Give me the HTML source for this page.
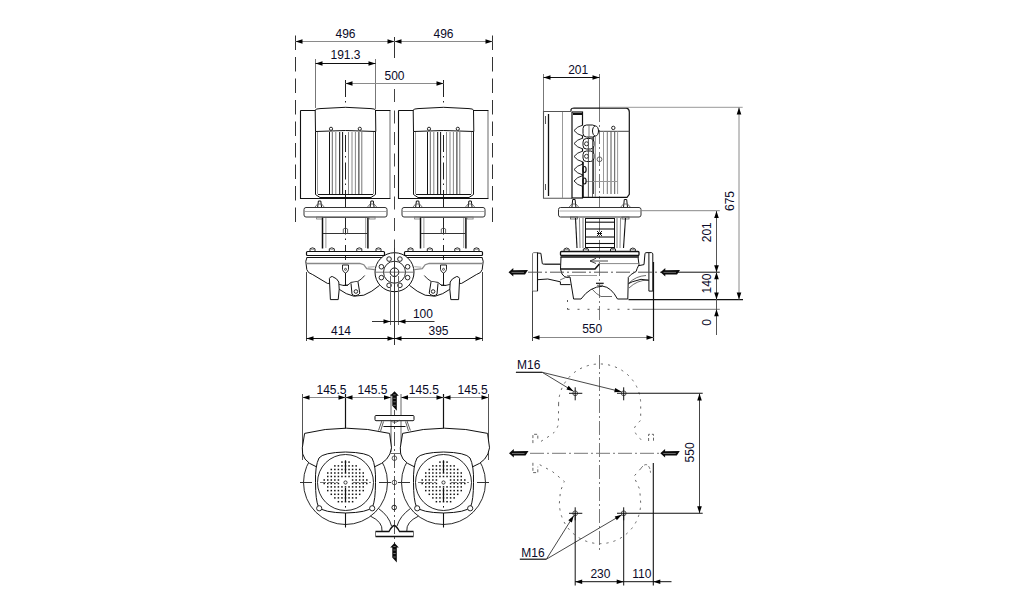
<!DOCTYPE html>
<html><head><meta charset="utf-8"><style>
html,body{margin:0;padding:0;background:#fff;}
body{width:1034px;height:611px;overflow:hidden;}
svg{display:block;font-family:"Liberation Sans",sans-serif;}
</style></head><body>
<svg width="1034" height="611" viewBox="0 0 1034 611">
<rect width="1034" height="611" fill="#fff"/>
<line x1="295.5" y1="35.5" x2="295.5" y2="222" stroke="#333" stroke-width="1" stroke-dasharray="14.5 7"/>
<line x1="492.5" y1="35.5" x2="492.5" y2="222" stroke="#333" stroke-width="1" stroke-dasharray="14.5 7"/>
<line x1="394.5" y1="37" x2="394.5" y2="58" stroke="#333" stroke-width="1"/>
<line x1="394.5" y1="89" x2="394.5" y2="250" stroke="#444" stroke-width="1" stroke-dasharray="13 8.5"/>
<line x1="295.5" y1="41.5" x2="394.5" y2="41.5" stroke="#8a8a8a" stroke-width="1"/>
<polygon points="295.5,41.5 302.5,39.2 302.5,43.8" fill="#000"/>
<polygon points="394.5,41.5 387.5,39.2 387.5,43.8" fill="#000"/>
<line x1="394.5" y1="41.5" x2="492.5" y2="41.5" stroke="#8a8a8a" stroke-width="1"/>
<polygon points="394.5,41.5 401.5,39.2 401.5,43.8" fill="#000"/>
<polygon points="492.5,41.5 485.5,39.2 485.5,43.8" fill="#000"/>
<text x="345.5" y="37.8" text-anchor="middle" font-size="12" fill="#0a0a28">496</text>
<text x="443.5" y="37.8" text-anchor="middle" font-size="12" fill="#0a0a28">496</text>
<line x1="315.5" y1="59" x2="315.5" y2="108" stroke="#777" stroke-width="1"/>
<line x1="375.5" y1="59" x2="375.5" y2="109" stroke="#777" stroke-width="1"/>
<line x1="315.5" y1="63.5" x2="375.5" y2="63.5" stroke="#111" stroke-width="1"/>
<polygon points="315.5,63.5 322.5,61.2 322.5,65.8" fill="#000"/>
<polygon points="375.5,63.5 368.5,61.2 368.5,65.8" fill="#000"/>
<text x="345.5" y="59" text-anchor="middle" font-size="12" fill="#0a0a28">191.3</text>
<line x1="345.5" y1="80" x2="345.5" y2="260" stroke="#222" stroke-width="1" stroke-dasharray="17 4 1.5 5"/>
<line x1="443.5" y1="80" x2="443.5" y2="260" stroke="#222" stroke-width="1" stroke-dasharray="17 4 1.5 5"/>
<line x1="345.5" y1="83.5" x2="443.5" y2="83.5" stroke="#8a8a8a" stroke-width="1"/>
<polygon points="345.5,83.5 352.5,81.2 352.5,85.8" fill="#000"/>
<polygon points="443.5,83.5 436.5,81.2 436.5,85.8" fill="#000"/>
<text x="394.5" y="79.6" text-anchor="middle" font-size="12" fill="#0a0a28">500</text>
<path d="M390.5,110.5 L301,110.5 Q300.5,110.5 300.5,111 L300.5,198.5 L390.5,198.5" stroke="#111" stroke-width="1.1" fill="none"/>
<line x1="390" y1="111" x2="390" y2="198" stroke="#777" stroke-width="1.1"/>
<path d="M315.5,131.5 L315.2,110 Q316,108.8 320,108.6 Q345.5,106 371,108.6 Q375,108.8 375.5,110 L375.8,131.5 Q345.5,129.5 315.5,131.5 Z" stroke="#111" stroke-width="1" fill="#fff"/>
<path d="M315.5,131.5 L315.5,194.5 L320,197.5 L371,197.5 L375.5,194.5 L375.5,131.5" stroke="#111" stroke-width="1" fill="none"/>
<line x1="317.5" y1="132" x2="317.5" y2="194" stroke="#999" stroke-width="1"/>
<line x1="373.5" y1="132" x2="373.5" y2="194" stroke="#999" stroke-width="1"/>
<line x1="329.5" y1="132" x2="329.5" y2="195" stroke="#111" stroke-width="1"/>
<line x1="332.3" y1="132" x2="332.3" y2="195" stroke="#666" stroke-width="1"/>
<line x1="335.8" y1="132" x2="335.8" y2="195" stroke="#888" stroke-width="1"/>
<line x1="339.7" y1="132" x2="339.7" y2="195" stroke="#111" stroke-width="1"/>
<line x1="342.6" y1="132" x2="342.6" y2="195" stroke="#111" stroke-width="1"/>
<line x1="348.5" y1="132" x2="348.5" y2="195" stroke="#888" stroke-width="1"/>
<line x1="352" y1="132" x2="352" y2="195" stroke="#888" stroke-width="1"/>
<line x1="355.4" y1="132" x2="355.4" y2="195" stroke="#888" stroke-width="1"/>
<line x1="358.9" y1="132" x2="358.9" y2="195" stroke="#222" stroke-width="1"/>
<line x1="361.8" y1="132" x2="361.8" y2="195" stroke="#777" stroke-width="1"/>
<line x1="318" y1="194.5" x2="373" y2="194.5" stroke="#111" stroke-width="1"/>
<circle cx="331" cy="128.8" r="1.6" stroke="#111" stroke-width="0.9" fill="#fff"/>
<circle cx="359.8" cy="128.8" r="1.6" stroke="#111" stroke-width="0.9" fill="#fff"/>
<path d="M317.6,207.5 L318.4,201 L320.8,201 L321.6,207.5" stroke="#111" stroke-width="1" fill="#fff"/>
<path d="M314.6,207.5 L317.6,204 L321.6,204 L324.6,207.5" stroke="#555" stroke-width="0.8" fill="none"/>
<path d="M370.1,207.5 L370.9,201 L373.3,201 L374.1,207.5" stroke="#111" stroke-width="1" fill="#fff"/>
<path d="M367.1,207.5 L370.1,204 L374.1,204 L377.1,207.5" stroke="#555" stroke-width="0.8" fill="none"/>
<rect x="304" y="207.5" width="83" height="9.5" rx="2" stroke="#333" stroke-width="1" fill="#fff"/>
<line x1="305" y1="211.5" x2="386" y2="211.5" stroke="#aaa" stroke-width="1"/>
<rect x="316.6" y="217" width="6" height="2" rx="0" stroke="#777" stroke-width="0.8" fill="none"/>
<rect x="369.1" y="217" width="6" height="2" rx="0" stroke="#777" stroke-width="0.8" fill="none"/>
<line x1="322.5" y1="217.5" x2="322.5" y2="248.5" stroke="#111" stroke-width="1.5"/>
<line x1="325.9" y1="218" x2="325.9" y2="248" stroke="#999" stroke-width="1"/>
<line x1="367.9" y1="217.5" x2="367.9" y2="248.5" stroke="#111" stroke-width="1.5"/>
<line x1="365.7" y1="218" x2="365.7" y2="248" stroke="#999" stroke-width="1"/>
<line x1="323" y1="217.5" x2="367.5" y2="217.5" stroke="#555" stroke-width="1"/>
<line x1="323" y1="233.5" x2="367.5" y2="233.5" stroke="#333" stroke-width="1"/>
<path d="M343.3,233.5 L343.3,229 Q345.5,227 347.6,229 L347.6,233.5" stroke="#444" stroke-width="0.8" fill="none"/>
<path d="M310,251.3 L310,248.8 Q312.5,246.8 315,248.8 L315,251.3" stroke="#111" stroke-width="0.9" fill="#fff"/>
<line x1="311" y1="249.3" x2="314" y2="249.3" stroke="#666" stroke-width="0.7"/>
<path d="M329.3,251.3 L329.3,248.8 Q331.8,246.8 334.3,248.8 L334.3,251.3" stroke="#111" stroke-width="0.9" fill="#fff"/>
<line x1="330.3" y1="249.3" x2="333.3" y2="249.3" stroke="#666" stroke-width="0.7"/>
<path d="M356.8,251.3 L356.8,248.8 Q359.3,246.8 361.8,248.8 L361.8,251.3" stroke="#111" stroke-width="0.9" fill="#fff"/>
<line x1="357.8" y1="249.3" x2="360.8" y2="249.3" stroke="#666" stroke-width="0.7"/>
<path d="M376,251.3 L376,248.8 Q378.5,246.8 381,248.8 L381,251.3" stroke="#111" stroke-width="0.9" fill="#fff"/>
<line x1="377" y1="249.3" x2="380" y2="249.3" stroke="#666" stroke-width="0.7"/>
<rect x="306.5" y="251.5" width="78" height="4" rx="1" stroke="#111" stroke-width="1.2" fill="#fff"/>
<line x1="306.5" y1="257.5" x2="384.5" y2="257.5" stroke="#111" stroke-width="1.2"/>
<path d="M488.5,110.5 L399,110.5 Q398.5,110.5 398.5,111 L398.5,198.5 L488.5,198.5" stroke="#111" stroke-width="1.1" fill="none"/>
<line x1="488" y1="111" x2="488" y2="198" stroke="#777" stroke-width="1.1"/>
<path d="M413.5,131.5 L413.2,110 Q414,108.8 418,108.6 Q443.5,106 469,108.6 Q473,108.8 473.5,110 L473.8,131.5 Q443.5,129.5 413.5,131.5 Z" stroke="#111" stroke-width="1" fill="#fff"/>
<path d="M413.5,131.5 L413.5,194.5 L418,197.5 L469,197.5 L473.5,194.5 L473.5,131.5" stroke="#111" stroke-width="1" fill="none"/>
<line x1="415.5" y1="132" x2="415.5" y2="194" stroke="#999" stroke-width="1"/>
<line x1="471.5" y1="132" x2="471.5" y2="194" stroke="#999" stroke-width="1"/>
<line x1="427.5" y1="132" x2="427.5" y2="195" stroke="#111" stroke-width="1"/>
<line x1="430.3" y1="132" x2="430.3" y2="195" stroke="#666" stroke-width="1"/>
<line x1="433.8" y1="132" x2="433.8" y2="195" stroke="#888" stroke-width="1"/>
<line x1="437.7" y1="132" x2="437.7" y2="195" stroke="#111" stroke-width="1"/>
<line x1="440.6" y1="132" x2="440.6" y2="195" stroke="#111" stroke-width="1"/>
<line x1="446.5" y1="132" x2="446.5" y2="195" stroke="#888" stroke-width="1"/>
<line x1="450" y1="132" x2="450" y2="195" stroke="#888" stroke-width="1"/>
<line x1="453.4" y1="132" x2="453.4" y2="195" stroke="#888" stroke-width="1"/>
<line x1="456.9" y1="132" x2="456.9" y2="195" stroke="#222" stroke-width="1"/>
<line x1="459.8" y1="132" x2="459.8" y2="195" stroke="#777" stroke-width="1"/>
<line x1="416" y1="194.5" x2="471" y2="194.5" stroke="#111" stroke-width="1"/>
<circle cx="429" cy="128.8" r="1.6" stroke="#111" stroke-width="0.9" fill="#fff"/>
<circle cx="457.8" cy="128.8" r="1.6" stroke="#111" stroke-width="0.9" fill="#fff"/>
<path d="M415.6,207.5 L416.4,201 L418.8,201 L419.6,207.5" stroke="#111" stroke-width="1" fill="#fff"/>
<path d="M412.6,207.5 L415.6,204 L419.6,204 L422.6,207.5" stroke="#555" stroke-width="0.8" fill="none"/>
<path d="M468.1,207.5 L468.9,201 L471.3,201 L472.1,207.5" stroke="#111" stroke-width="1" fill="#fff"/>
<path d="M465.1,207.5 L468.1,204 L472.1,204 L475.1,207.5" stroke="#555" stroke-width="0.8" fill="none"/>
<rect x="402" y="207.5" width="83" height="9.5" rx="2" stroke="#333" stroke-width="1" fill="#fff"/>
<line x1="403" y1="211.5" x2="484" y2="211.5" stroke="#aaa" stroke-width="1"/>
<rect x="414.6" y="217" width="6" height="2" rx="0" stroke="#777" stroke-width="0.8" fill="none"/>
<rect x="467.1" y="217" width="6" height="2" rx="0" stroke="#777" stroke-width="0.8" fill="none"/>
<line x1="420.5" y1="217.5" x2="420.5" y2="248.5" stroke="#111" stroke-width="1.5"/>
<line x1="423.9" y1="218" x2="423.9" y2="248" stroke="#999" stroke-width="1"/>
<line x1="465.9" y1="217.5" x2="465.9" y2="248.5" stroke="#111" stroke-width="1.5"/>
<line x1="463.7" y1="218" x2="463.7" y2="248" stroke="#999" stroke-width="1"/>
<line x1="421" y1="217.5" x2="465.5" y2="217.5" stroke="#555" stroke-width="1"/>
<line x1="421" y1="233.5" x2="465.5" y2="233.5" stroke="#333" stroke-width="1"/>
<path d="M441.3,233.5 L441.3,229 Q443.5,227 445.6,229 L445.6,233.5" stroke="#444" stroke-width="0.8" fill="none"/>
<path d="M408,251.3 L408,248.8 Q410.5,246.8 413,248.8 L413,251.3" stroke="#111" stroke-width="0.9" fill="#fff"/>
<line x1="409" y1="249.3" x2="412" y2="249.3" stroke="#666" stroke-width="0.7"/>
<path d="M427.3,251.3 L427.3,248.8 Q429.8,246.8 432.3,248.8 L432.3,251.3" stroke="#111" stroke-width="0.9" fill="#fff"/>
<line x1="428.3" y1="249.3" x2="431.3" y2="249.3" stroke="#666" stroke-width="0.7"/>
<path d="M454.8,251.3 L454.8,248.8 Q457.3,246.8 459.8,248.8 L459.8,251.3" stroke="#111" stroke-width="0.9" fill="#fff"/>
<line x1="455.8" y1="249.3" x2="458.8" y2="249.3" stroke="#666" stroke-width="0.7"/>
<path d="M474,251.3 L474,248.8 Q476.5,246.8 479,248.8 L479,251.3" stroke="#111" stroke-width="0.9" fill="#fff"/>
<line x1="475" y1="249.3" x2="478" y2="249.3" stroke="#666" stroke-width="0.7"/>
<rect x="404.5" y="251.5" width="78" height="4" rx="1" stroke="#111" stroke-width="1.2" fill="#fff"/>
<line x1="404.5" y1="257.5" x2="482.5" y2="257.5" stroke="#111" stroke-width="1.2"/>
<path d="M306.8,257.9 L305.8,261.3 L306.8,269.6 Q307.5,273 312.7,274.6 L327.4,283.4 L330,283.4" stroke="#111" stroke-width="1" fill="none"/>
<path d="M330.4,299.6 L329.4,278.5 Q330.5,276.3 332.3,276.5 Q337.5,278.5 338.8,282 L339.2,289.3 L338.2,299.6 Z" stroke="#111" stroke-width="1" fill="#fff"/>
<path d="M306,263.5 L359.8,263.3 L363.8,264.7 L366.7,268.7 L374.6,269.6" stroke="#888" stroke-width="1.3" fill="none"/>
<line x1="367.7" y1="267.2" x2="374.6" y2="266.7" stroke="#aaa" stroke-width="1"/>
<path d="M339.2,284.4 L343.1,285.4 L348,284.9 L351,282.4 L357.9,281.4 Q362,279 364.7,275.5" stroke="#111" stroke-width="0.9" fill="none"/>
<path d="M339.2,289.3 Q346,294.5 353.9,296.2 L363.8,295.2 Q372,292 379.5,285.4" stroke="#111" stroke-width="1" fill="none"/>
<path d="M351,283.4 L352,294.2 Q353.5,295.8 355.9,295.7 Q358.5,295.2 359.8,293.2 L357.9,281.4" stroke="#111" stroke-width="1" fill="#fff"/>
<circle cx="355.9" cy="291.5" r="1.8" stroke="#111" stroke-width="0.9" fill="none"/>
<path d="M342.5,265 L342.5,269.5 Q343,272 345.5,273 Q348,272 348.5,269.5 L348.5,265 Z" stroke="#111" stroke-width="0.9" fill="none"/>
<circle cx="345.5" cy="269.3" r="1" stroke="#111" stroke-width="0.7" fill="none"/>
<line x1="345.5" y1="273" x2="345.5" y2="286" stroke="#111" stroke-width="1"/>
<line x1="343" y1="285.5" x2="348" y2="285.5" stroke="#111" stroke-width="0.8"/>
<line x1="306.5" y1="272" x2="306.5" y2="341" stroke="#444" stroke-width="1"/>
<path d="M482.2,257.9 L483.2,261.3 L482.2,269.6 Q481.5,273 476.3,274.6 L461.6,283.4 L459,283.4" stroke="#111" stroke-width="1" fill="none"/>
<path d="M458.6,299.6 L459.6,278.5 Q458.5,276.3 456.7,276.5 Q451.5,278.5 450.2,282 L449.8,289.3 L450.8,299.6 Z" stroke="#111" stroke-width="1" fill="#fff"/>
<path d="M483,263.5 L429.2,263.3 L425.2,264.7 L422.3,268.7 L414.4,269.6" stroke="#888" stroke-width="1.3" fill="none"/>
<line x1="421.3" y1="267.2" x2="414.4" y2="266.7" stroke="#aaa" stroke-width="1"/>
<path d="M449.8,284.4 L445.9,285.4 L441,284.9 L438,282.4 L431.1,281.4 Q427,279 424.3,275.5" stroke="#111" stroke-width="0.9" fill="none"/>
<path d="M449.8,289.3 Q443,294.5 435.1,296.2 L425.2,295.2 Q417,292 409.5,285.4" stroke="#111" stroke-width="1" fill="none"/>
<path d="M438,283.4 L437,294.2 Q435.5,295.8 433.1,295.7 Q430.5,295.2 429.2,293.2 L431.1,281.4" stroke="#111" stroke-width="1" fill="#fff"/>
<circle cx="433.1" cy="291.5" r="1.8" stroke="#111" stroke-width="0.9" fill="none"/>
<path d="M446.5,265 L446.5,269.5 Q446,272 443.5,273 Q441,272 440.5,269.5 L440.5,265 Z" stroke="#111" stroke-width="0.9" fill="none"/>
<circle cx="443.5" cy="269.3" r="1" stroke="#111" stroke-width="0.7" fill="none"/>
<line x1="443.5" y1="273" x2="443.5" y2="286" stroke="#111" stroke-width="1"/>
<line x1="446" y1="285.5" x2="441" y2="285.5" stroke="#111" stroke-width="0.8"/>
<line x1="482.5" y1="272" x2="482.5" y2="341" stroke="#444" stroke-width="1"/>
<circle cx="394.5" cy="272.2" r="19.5" stroke="#111" stroke-width="1" fill="#fff"/>
<circle cx="394.5" cy="272.2" r="11" stroke="#111" stroke-width="0.9" fill="none"/>
<circle cx="407.62" cy="277.63" r="2.3" stroke="#111" stroke-width="0.9" fill="#fff"/>
<circle cx="399.93" cy="285.32" r="2.3" stroke="#111" stroke-width="0.9" fill="#fff"/>
<circle cx="389.07" cy="285.32" r="2.3" stroke="#111" stroke-width="0.9" fill="#fff"/>
<circle cx="381.38" cy="277.63" r="2.3" stroke="#111" stroke-width="0.9" fill="#fff"/>
<circle cx="381.38" cy="266.77" r="2.3" stroke="#111" stroke-width="0.9" fill="#fff"/>
<circle cx="389.07" cy="259.08" r="2.3" stroke="#111" stroke-width="0.9" fill="#fff"/>
<circle cx="399.93" cy="259.08" r="2.3" stroke="#111" stroke-width="0.9" fill="#fff"/>
<circle cx="407.62" cy="266.77" r="2.3" stroke="#111" stroke-width="0.9" fill="#fff"/>
<circle cx="394.5" cy="272.2" r="4.3" stroke="#111" stroke-width="1" fill="#fff"/>
<line x1="375" y1="272.2" x2="414" y2="272.2" stroke="#555" stroke-width="0.8"/>
<line x1="390.5" y1="276" x2="390.5" y2="325" stroke="#666" stroke-width="1"/>
<line x1="398.5" y1="276" x2="398.5" y2="325" stroke="#666" stroke-width="1"/>
<line x1="394.5" y1="248" x2="394.5" y2="345" stroke="#333" stroke-width="1"/>
<line x1="306.5" y1="338.5" x2="394.5" y2="338.5" stroke="#111" stroke-width="1"/>
<polygon points="306.5,338.5 313.5,336.2 313.5,340.8" fill="#000"/>
<polygon points="394.5,338.5 387.5,336.2 387.5,340.8" fill="#000"/>
<line x1="394.5" y1="338.5" x2="482.5" y2="338.5" stroke="#111" stroke-width="1"/>
<polygon points="394.5,338.5 401.5,336.2 401.5,340.8" fill="#000"/>
<polygon points="482.5,338.5 475.5,336.2 475.5,340.8" fill="#000"/>
<text x="341" y="334.7" text-anchor="middle" font-size="12" fill="#0a0a28">414</text>
<text x="438.5" y="334.7" text-anchor="middle" font-size="12" fill="#0a0a28">395</text>
<line x1="372" y1="321.5" x2="434.5" y2="321.5" stroke="#333" stroke-width="1"/>
<polygon points="390.5,321.5 383.5,319.2 383.5,323.8" fill="#000"/>
<polygon points="398.5,321.5 405.5,319.2 405.5,323.8" fill="#000"/>
<text x="422.9" y="318.1" text-anchor="middle" font-size="12" fill="#0a0a28">100</text>
<line x1="543.5" y1="74" x2="543.5" y2="111" stroke="#777" stroke-width="1"/>
<line x1="599.5" y1="74" x2="599.5" y2="108" stroke="#777" stroke-width="1"/>
<line x1="543.5" y1="77.5" x2="599.5" y2="77.5" stroke="#111" stroke-width="1"/>
<polygon points="543.5,77.5 550.5,75.2 550.5,79.8" fill="#000"/>
<polygon points="599.5,77.5 592.5,75.2 592.5,79.8" fill="#000"/>
<text x="578.2" y="73.8" text-anchor="middle" font-size="12" fill="#0a0a28">201</text>
<line x1="599.5" y1="108" x2="599.5" y2="321" stroke="#777" stroke-width="1" stroke-dasharray="14 3 2 3"/>
<path d="M571,111.5 L543.5,111.5 L543.5,198.3 L572,198.3" stroke="#555" stroke-width="1.1" fill="none"/>
<line x1="548.5" y1="114" x2="548.5" y2="196" stroke="#111" stroke-width="1.3"/>
<line x1="562.5" y1="112" x2="562.5" y2="198" stroke="#999" stroke-width="1"/>
<line x1="545.5" y1="116" x2="545.5" y2="124" stroke="#555" stroke-width="1"/>
<line x1="545.5" y1="184" x2="545.5" y2="190" stroke="#555" stroke-width="1"/>
<rect x="572" y="112" width="10.5" height="86" rx="0" stroke="#111" stroke-width="1.2" fill="none"/>
<line x1="573" y1="114" x2="582" y2="114" stroke="#111" stroke-width="2"/>
<path d="M571,111 L571,109.5 Q571.5,108.2 574,108 L626.5,108.2 Q629.3,108.8 629.3,112 L629.3,194.3 L627,197.3 L582.5,197.3" stroke="#111" stroke-width="1.2" fill="none"/>
<line x1="597" y1="131.3" x2="629.5" y2="131.3" stroke="#444" stroke-width="1"/>
<circle cx="613.3" cy="127.9" r="1.7" stroke="#111" stroke-width="0.9" fill="none"/>
<line x1="593.5" y1="131.5" x2="593.5" y2="194" stroke="#444" stroke-width="1"/>
<line x1="603.5" y1="131.5" x2="603.5" y2="194" stroke="#999" stroke-width="1"/>
<line x1="607.3" y1="131.5" x2="607.3" y2="194" stroke="#777" stroke-width="1"/>
<line x1="611" y1="131.5" x2="611" y2="194" stroke="#555" stroke-width="1"/>
<line x1="614.7" y1="131.5" x2="614.7" y2="194" stroke="#555" stroke-width="1"/>
<line x1="617.6" y1="131.5" x2="617.6" y2="194" stroke="#999" stroke-width="1"/>
<line x1="582.5" y1="181.5" x2="617.6" y2="181.5" stroke="#999" stroke-width="1"/>
<path d="M583,125.0 Q577,126.5 574,130.5 Q577,134.5 583,136.0" stroke="#111" stroke-width="0.9" fill="#fff"/>
<path d="M583,138.0 Q577,139.5 574,143.5 Q577,147.5 583,149.0" stroke="#111" stroke-width="0.9" fill="#fff"/>
<path d="M583,151.0 Q577,152.5 574,156.5 Q577,160.5 583,162.0" stroke="#111" stroke-width="0.9" fill="#fff"/>
<path d="M583,164.0 Q577,165.5 574,169.5 Q577,173.5 583,175.0" stroke="#111" stroke-width="0.9" fill="#fff"/>
<path d="M583,175.5 Q577,177 574,181 Q577,185 583,186.5" stroke="#111" stroke-width="0.9" fill="#fff"/>
<rect x="583" y="125" width="13" height="12" rx="3.5" stroke="#111" stroke-width="1" fill="#fff"/>
<ellipse cx="595.5" cy="131" rx="3" ry="5" stroke="#111" stroke-width="1" fill="#fff"/>
<line x1="589" y1="125.5" x2="589" y2="136.5" stroke="#555" stroke-width="0.8"/>
<rect x="583" y="138.5" width="11" height="10.5" rx="3.5" stroke="#111" stroke-width="1" fill="#fff"/>
<rect x="583" y="151" width="11" height="10.5" rx="3.5" stroke="#111" stroke-width="1" fill="#fff"/>
<circle cx="586.5" cy="143.8" r="2" stroke="#222" stroke-width="0.9" fill="none"/>
<circle cx="586.5" cy="156.3" r="2" stroke="#222" stroke-width="0.9" fill="none"/>
<ellipse cx="584.5" cy="169.5" rx="1.6" ry="3" stroke="#111" stroke-width="1.2" fill="#fff"/>
<ellipse cx="584.5" cy="181" rx="1.6" ry="3" stroke="#111" stroke-width="1.2" fill="#fff"/>
<line x1="583" y1="162" x2="583" y2="197.5" stroke="#111" stroke-width="1.6"/>
<line x1="588.4" y1="137" x2="588.4" y2="197" stroke="#444" stroke-width="0.9"/>
<line x1="592.5" y1="137" x2="592.5" y2="197" stroke="#555" stroke-width="0.9"/>
<line x1="595.3" y1="137" x2="595.3" y2="197" stroke="#777" stroke-width="0.9"/>
<circle cx="599.5" cy="159.3" r="2.4" stroke="#444" stroke-width="0.8" fill="none"/>
<path d="M571.9,207.3 L572.7,199.5 L575.1,199.5 L575.9,207.3" stroke="#111" stroke-width="1" fill="#fff"/>
<path d="M568.9,207.3 L571.9,204 L575.9,204 L578.9,207.3" stroke="#555" stroke-width="0.8" fill="none"/>
<path d="M623.5,207.3 L624.3,199.5 L626.7,199.5 L627.5,207.3" stroke="#111" stroke-width="1" fill="#fff"/>
<path d="M620.5,207.3 L623.5,204 L627.5,204 L630.5,207.3" stroke="#555" stroke-width="0.8" fill="none"/>
<rect x="558.5" y="207.5" width="82.5" height="9.5" rx="2" stroke="#333" stroke-width="1" fill="#fff"/>
<line x1="559.5" y1="211" x2="640" y2="211" stroke="#aaa" stroke-width="1"/>
<line x1="641" y1="210.7" x2="719.8" y2="210.7" stroke="#888" stroke-width="1"/>
<rect x="570.4" y="217" width="7" height="2" rx="0" stroke="#555" stroke-width="0.8" fill="none"/>
<rect x="622" y="217" width="7" height="2" rx="0" stroke="#555" stroke-width="0.8" fill="none"/>
<line x1="575.5" y1="218" x2="577" y2="248" stroke="#111" stroke-width="1.1"/>
<line x1="579.5" y1="218" x2="580" y2="248" stroke="#888" stroke-width="1"/>
<line x1="625.5" y1="218" x2="623.5" y2="248" stroke="#111" stroke-width="1.1"/>
<line x1="620.5" y1="218" x2="620" y2="248" stroke="#888" stroke-width="1"/>
<rect x="585.5" y="218.5" width="29" height="29" rx="0" stroke="#111" stroke-width="1" fill="none"/>
<line x1="585.5" y1="222.2" x2="614.5" y2="222.2" stroke="#111" stroke-width="1.1"/>
<line x1="585.5" y1="229" x2="614.5" y2="229" stroke="#111" stroke-width="1.1"/>
<line x1="585.5" y1="237" x2="614.5" y2="237" stroke="#111" stroke-width="1.1"/>
<line x1="585.5" y1="243.5" x2="614.5" y2="243.5" stroke="#111" stroke-width="1.1"/>
<line x1="583" y1="218" x2="583" y2="248" stroke="#777" stroke-width="1"/>
<line x1="617" y1="218" x2="617" y2="248" stroke="#777" stroke-width="1"/>
<path d="M597,231 L602,236 M602,231 L597,236 M597,233.5 L602,233.5" stroke="#111" stroke-width="1" fill="none"/>
<path d="M564.1,251.5 L564.1,249 Q566.6,247 569.1,249 L569.1,251.5" stroke="#111" stroke-width="0.9" fill="#fff"/>
<line x1="565.1" y1="249.5" x2="568.1" y2="249.5" stroke="#666" stroke-width="0.7"/>
<path d="M583.3,251.5 L583.3,249 Q585.8,247 588.3,249 L588.3,251.5" stroke="#111" stroke-width="0.9" fill="#fff"/>
<line x1="584.3" y1="249.5" x2="587.3" y2="249.5" stroke="#666" stroke-width="0.7"/>
<path d="M610.5,251.5 L610.5,249 Q613,247 615.5,249 L615.5,251.5" stroke="#111" stroke-width="0.9" fill="#fff"/>
<line x1="611.5" y1="249.5" x2="614.5" y2="249.5" stroke="#666" stroke-width="0.7"/>
<path d="M630.3,251.5 L630.3,249 Q632.8,247 635.3,249 L635.3,251.5" stroke="#111" stroke-width="0.9" fill="#fff"/>
<line x1="631.3" y1="249.5" x2="634.3" y2="249.5" stroke="#666" stroke-width="0.7"/>
<rect x="560.5" y="251.5" width="78.5" height="4" rx="1" stroke="#111" stroke-width="1.3" fill="#fff"/>
<line x1="560.5" y1="257" x2="639" y2="257" stroke="#111" stroke-width="1.3"/>
<path d="M561,257 L560.5,269 L562,274 Q564,277 567,277.5 L570,277 L573.6,299" stroke="#111" stroke-width="1" fill="none"/>
<path d="M638.1,257.8 L639,264.6 L637.1,268.6 L636.1,271.5 L631.2,274.4 L628.3,277.4 L627.8,299" stroke="#111" stroke-width="1" fill="none"/>
<path d="M560.5,269 L595,269 L599.3,264.1" stroke="#111" stroke-width="1.5" fill="none"/>
<line x1="599.3" y1="263.6" x2="638.5" y2="263.6" stroke="#888" stroke-width="1"/>
<line x1="567" y1="275.5" x2="597" y2="275.5" stroke="#999" stroke-width="1"/>
<path d="M590,261 L608,261 M590,261 L596,258.3 M590,261 L596,263.5" stroke="#333" stroke-width="0.9" fill="none"/>
<path d="M573.6,299 L581,299 Q590,286.5 602.8,286.2 Q611,287 617.5,299 L627.8,299" stroke="#111" stroke-width="1" fill="none"/>
<path d="M592,289 Q596,294 601,296.5 L612,296.5" stroke="#444" stroke-width="0.8" fill="none"/>
<line x1="596" y1="283.3" x2="603.7" y2="283.3" stroke="#111" stroke-width="1.2"/>
<line x1="597" y1="285.3" x2="603" y2="285.3" stroke="#444" stroke-width="0.8"/>
<path d="M629,283 Q636,276 646,275.5 M629,288 Q637,280 648.5,280" stroke="#444" stroke-width="0.8" fill="none"/>
<path d="M537.5,252.6 L533.5,252.6 Q532.5,253 532.5,254 L532.5,291.1 L537.5,291.1 Z" stroke="#777" stroke-width="1" fill="#fff"/>
<line x1="537.5" y1="252.6" x2="537.5" y2="291.1" stroke="#111" stroke-width="1.1"/>
<path d="M537.5,253 L540.9,253.3 L542.3,263.7 L544.4,264.4 L560.5,264.4" stroke="#111" stroke-width="1" fill="none"/>
<line x1="544" y1="263.7" x2="560" y2="263.7" stroke="#888" stroke-width="1"/>
<path d="M537.5,279.7 L547.8,279 L560.4,281.8 L560.4,284.6 L570.5,284.6" stroke="#111" stroke-width="1" fill="none"/>
<path d="M560,280 Q566,277 570,276" stroke="#555" stroke-width="0.8" fill="none"/>
<path d="M645,253.3 Q645.5,252.6 647,252.6 L651.5,252.6 Q652.8,253 652.8,254 L652.8,291.1 L648.9,291.1 L648.9,253" stroke="#111" stroke-width="1" fill="#fff"/>
<path d="M645,253.3 L644,264.6 L639,265.6" stroke="#111" stroke-width="1" fill="none"/>
<path d="M648.9,280.3 L641,279.3 L632.2,281.8 L628.3,283.8" stroke="#111" stroke-width="1" fill="none"/>
<line x1="528" y1="272.2" x2="670" y2="272.2" stroke="#555" stroke-width="1" stroke-dasharray="14 3 2 3"/>
<line x1="670" y1="272.2" x2="719.8" y2="272.2" stroke="#111" stroke-width="1"/>
<line x1="628.5" y1="299.6" x2="743" y2="299.6" stroke="#111" stroke-width="1.3"/>
<line x1="567.5" y1="309.3" x2="632.5" y2="309.3" stroke="#555" stroke-width="1" stroke-dasharray="2 8"/>
<line x1="567.5" y1="300" x2="567.5" y2="309.5" stroke="#555" stroke-width="1" stroke-dasharray="2 6"/>
<line x1="632.5" y1="309.3" x2="719.8" y2="309.3" stroke="#777" stroke-width="1"/>
<polygon points="508.5,272.2 513.3,268 513.3,270.2 528,270 525,274.4 513.3,274.4 513.3,276.4" fill="#0a0a0a"/>
<line x1="511.5" y1="272.4" x2="524" y2="272.4" stroke="#aaa" stroke-width="0.6"/>
<polygon points="660.5,272.2 665.3,268 665.3,270.2 680,270 677,274.4 665.3,274.4 665.3,276.4" fill="#0a0a0a"/>
<line x1="663.5" y1="272.4" x2="676" y2="272.4" stroke="#aaa" stroke-width="0.6"/>
<line x1="600" y1="107.3" x2="742.7" y2="107.3" stroke="#999" stroke-width="1"/>
<line x1="739" y1="107.3" x2="739" y2="299.5" stroke="#8a8a8a" stroke-width="1"/>
<polygon points="739,107.5 736.7,114.5 741.3,114.5" fill="#000"/>
<polygon points="739,299.5 736.7,292.5 741.3,292.5" fill="#000"/>
<text x="733.5" y="201" text-anchor="middle" font-size="12" fill="#0a0a28" transform="rotate(-90 733.5 201)">675</text>
<line x1="716.5" y1="211" x2="716.5" y2="335" stroke="#555" stroke-width="1"/>
<polygon points="716.5,211 714.2,218 718.8,218" fill="#000"/>
<polygon points="716.5,272.2 714.2,265.2 718.8,265.2" fill="#000"/>
<polygon points="716.5,272.2 714.2,279.2 718.8,279.2" fill="#000"/>
<polygon points="716.5,299.6 714.2,292.6 718.8,292.6" fill="#000"/>
<polygon points="716.5,309.3 714.2,316.3 718.8,316.3" fill="#000"/>
<text x="710.9" y="232.2" text-anchor="middle" font-size="12" fill="#0a0a28" transform="rotate(-90 710.9 232.2)">201</text>
<text x="710.9" y="283.5" text-anchor="middle" font-size="12" fill="#0a0a28" transform="rotate(-90 710.9 283.5)">140</text>
<text x="710.9" y="322.4" text-anchor="middle" font-size="12" fill="#0a0a28" transform="rotate(-90 710.9 322.4)">0</text>
<line x1="532.5" y1="291" x2="532.5" y2="341" stroke="#444" stroke-width="1"/>
<line x1="653.5" y1="262" x2="653.5" y2="341" stroke="#111" stroke-width="1.2"/>
<line x1="532.5" y1="337.5" x2="653.5" y2="337.5" stroke="#888" stroke-width="1"/>
<polygon points="532.5,337.5 539.5,335.2 539.5,339.8" fill="#000"/>
<polygon points="653.5,337.5 646.5,335.2 646.5,339.8" fill="#000"/>
<text x="592.2" y="332.5" text-anchor="middle" font-size="12" fill="#0a0a28">550</text>
<line x1="302.5" y1="394" x2="302.5" y2="460" stroke="#555" stroke-width="1"/>
<line x1="345.5" y1="394" x2="345.5" y2="448" stroke="#111" stroke-width="1.2"/>
<line x1="391" y1="394" x2="391" y2="452" stroke="#666" stroke-width="1"/>
<line x1="401" y1="394" x2="401" y2="452" stroke="#666" stroke-width="1"/>
<line x1="443.5" y1="394" x2="443.5" y2="448" stroke="#111" stroke-width="1.2"/>
<line x1="488.5" y1="394" x2="488.5" y2="460" stroke="#555" stroke-width="1"/>
<line x1="302.5" y1="397.5" x2="345.5" y2="397.5" stroke="#8a8a8a" stroke-width="1"/>
<polygon points="302.5,397.5 309.5,395.2 309.5,399.8" fill="#000"/>
<polygon points="345.5,397.5 338.5,395.2 338.5,399.8" fill="#000"/>
<text x="331.5" y="394" text-anchor="middle" font-size="12" fill="#0a0a28">145.5</text>
<line x1="345.5" y1="397.5" x2="391" y2="397.5" stroke="#8a8a8a" stroke-width="1"/>
<polygon points="345.5,397.5 352.5,395.2 352.5,399.8" fill="#000"/>
<polygon points="391,397.5 384,395.2 384,399.8" fill="#000"/>
<text x="372.5" y="394" text-anchor="middle" font-size="12" fill="#0a0a28">145.5</text>
<line x1="401" y1="397.5" x2="443.5" y2="397.5" stroke="#8a8a8a" stroke-width="1"/>
<polygon points="401,397.5 408,395.2 408,399.8" fill="#000"/>
<polygon points="443.5,397.5 436.5,395.2 436.5,399.8" fill="#000"/>
<text x="423.8" y="394" text-anchor="middle" font-size="12" fill="#0a0a28">145.5</text>
<line x1="443.5" y1="397.5" x2="488.5" y2="397.5" stroke="#8a8a8a" stroke-width="1"/>
<polygon points="443.5,397.5 450.5,395.2 450.5,399.8" fill="#000"/>
<polygon points="488.5,397.5 481.5,395.2 481.5,399.8" fill="#000"/>
<text x="472.6" y="394" text-anchor="middle" font-size="12" fill="#0a0a28">145.5</text>
<circle cx="345.5" cy="482.5" r="42" stroke="#111" stroke-width="0.9" fill="none"/>
<path d="M304.6,433.4 Q345.5,423 389.6,433.4 L391.5,447.8 Q390,461 375,466.6 L316,466.6 Q301,461 302.3,447.8 Z" stroke="#111" stroke-width="1" fill="#fff"/>
<path d="M345.5,452 Q368,452.5 372,458 Q376,466 375.5,482.5 Q375.5,500 372.5,507 Q368,512.5 345.5,513 Q323,512.5 318.5,507 Q315.5,500 315.5,482.5 Q315,466 319,458 Q323,452.5 345.5,452 Z" stroke="#111" stroke-width="1" fill="#fff"/>
<circle cx="345.5" cy="482.5" r="28" stroke="#111" stroke-width="0.9" fill="none"/>
<circle cx="319.2" cy="508.3" r="2.6" stroke="#111" stroke-width="0.9" fill="#fff"/>
<circle cx="372.2" cy="508.3" r="2.6" stroke="#111" stroke-width="0.9" fill="#fff"/>
<rect x="341.2" y="461.35" width="1.5" height="1.5" fill="#111"/>
<rect x="344.75" y="461.35" width="1.5" height="1.5" fill="#111"/>
<rect x="348.3" y="461.35" width="1.5" height="1.5" fill="#111"/>
<rect x="334.1" y="465.15" width="1.5" height="1.5" fill="#111"/>
<rect x="337.65" y="465.15" width="1.5" height="1.5" fill="#111"/>
<rect x="341.2" y="465.15" width="1.5" height="1.5" fill="#111"/>
<rect x="344.75" y="465.15" width="1.5" height="1.5" fill="#111"/>
<rect x="348.3" y="465.15" width="1.5" height="1.5" fill="#111"/>
<rect x="351.85" y="465.15" width="1.5" height="1.5" fill="#111"/>
<rect x="355.4" y="465.15" width="1.5" height="1.5" fill="#111"/>
<rect x="330.55" y="468.75" width="1.5" height="1.5" fill="#111"/>
<rect x="334.1" y="468.75" width="1.5" height="1.5" fill="#111"/>
<rect x="337.65" y="468.75" width="1.5" height="1.5" fill="#111"/>
<rect x="341.2" y="468.75" width="1.5" height="1.5" fill="#111"/>
<rect x="344.75" y="468.75" width="1.5" height="1.5" fill="#111"/>
<rect x="348.3" y="468.75" width="1.5" height="1.5" fill="#111"/>
<rect x="351.85" y="468.75" width="1.5" height="1.5" fill="#111"/>
<rect x="355.4" y="468.75" width="1.5" height="1.5" fill="#111"/>
<rect x="358.95" y="468.75" width="1.5" height="1.5" fill="#111"/>
<rect x="327" y="472.25" width="1.5" height="1.5" fill="#111"/>
<rect x="330.55" y="472.25" width="1.5" height="1.5" fill="#111"/>
<rect x="334.1" y="472.25" width="1.5" height="1.5" fill="#111"/>
<rect x="337.65" y="472.25" width="1.5" height="1.5" fill="#111"/>
<rect x="341.2" y="472.25" width="1.5" height="1.5" fill="#111"/>
<rect x="344.75" y="472.25" width="1.5" height="1.5" fill="#111"/>
<rect x="348.3" y="472.25" width="1.5" height="1.5" fill="#111"/>
<rect x="351.85" y="472.25" width="1.5" height="1.5" fill="#111"/>
<rect x="355.4" y="472.25" width="1.5" height="1.5" fill="#111"/>
<rect x="358.95" y="472.25" width="1.5" height="1.5" fill="#111"/>
<rect x="362.5" y="472.25" width="1.5" height="1.5" fill="#111"/>
<rect x="327" y="475.75" width="1.5" height="1.5" fill="#111"/>
<rect x="330.55" y="475.75" width="1.5" height="1.5" fill="#111"/>
<rect x="334.1" y="475.75" width="1.5" height="1.5" fill="#111"/>
<rect x="337.65" y="475.75" width="1.5" height="1.5" fill="#111"/>
<rect x="341.2" y="475.75" width="1.5" height="1.5" fill="#111"/>
<rect x="344.75" y="475.75" width="1.5" height="1.5" fill="#111"/>
<rect x="348.3" y="475.75" width="1.5" height="1.5" fill="#111"/>
<rect x="351.85" y="475.75" width="1.5" height="1.5" fill="#111"/>
<rect x="355.4" y="475.75" width="1.5" height="1.5" fill="#111"/>
<rect x="358.95" y="475.75" width="1.5" height="1.5" fill="#111"/>
<rect x="362.5" y="475.75" width="1.5" height="1.5" fill="#111"/>
<rect x="323.45" y="479.25" width="1.5" height="1.5" fill="#111"/>
<rect x="327" y="479.25" width="1.5" height="1.5" fill="#111"/>
<rect x="330.55" y="479.25" width="1.5" height="1.5" fill="#111"/>
<rect x="334.1" y="479.25" width="1.5" height="1.5" fill="#111"/>
<rect x="337.65" y="479.25" width="1.5" height="1.5" fill="#111"/>
<rect x="351.85" y="479.25" width="1.5" height="1.5" fill="#111"/>
<rect x="355.4" y="479.25" width="1.5" height="1.5" fill="#111"/>
<rect x="358.95" y="479.25" width="1.5" height="1.5" fill="#111"/>
<rect x="362.5" y="479.25" width="1.5" height="1.5" fill="#111"/>
<rect x="366.05" y="479.25" width="1.5" height="1.5" fill="#111"/>
<rect x="323.45" y="482.75" width="1.5" height="1.5" fill="#111"/>
<rect x="327" y="482.75" width="1.5" height="1.5" fill="#111"/>
<rect x="330.55" y="482.75" width="1.5" height="1.5" fill="#111"/>
<rect x="334.1" y="482.75" width="1.5" height="1.5" fill="#111"/>
<rect x="337.65" y="482.75" width="1.5" height="1.5" fill="#111"/>
<rect x="351.85" y="482.75" width="1.5" height="1.5" fill="#111"/>
<rect x="355.4" y="482.75" width="1.5" height="1.5" fill="#111"/>
<rect x="358.95" y="482.75" width="1.5" height="1.5" fill="#111"/>
<rect x="362.5" y="482.75" width="1.5" height="1.5" fill="#111"/>
<rect x="366.05" y="482.75" width="1.5" height="1.5" fill="#111"/>
<rect x="327" y="486.15" width="1.5" height="1.5" fill="#111"/>
<rect x="330.55" y="486.15" width="1.5" height="1.5" fill="#111"/>
<rect x="334.1" y="486.15" width="1.5" height="1.5" fill="#111"/>
<rect x="337.65" y="486.15" width="1.5" height="1.5" fill="#111"/>
<rect x="341.2" y="486.15" width="1.5" height="1.5" fill="#111"/>
<rect x="344.75" y="486.15" width="1.5" height="1.5" fill="#111"/>
<rect x="348.3" y="486.15" width="1.5" height="1.5" fill="#111"/>
<rect x="351.85" y="486.15" width="1.5" height="1.5" fill="#111"/>
<rect x="355.4" y="486.15" width="1.5" height="1.5" fill="#111"/>
<rect x="358.95" y="486.15" width="1.5" height="1.5" fill="#111"/>
<rect x="362.5" y="486.15" width="1.5" height="1.5" fill="#111"/>
<rect x="327" y="489.85" width="1.5" height="1.5" fill="#111"/>
<rect x="330.55" y="489.85" width="1.5" height="1.5" fill="#111"/>
<rect x="334.1" y="489.85" width="1.5" height="1.5" fill="#111"/>
<rect x="337.65" y="489.85" width="1.5" height="1.5" fill="#111"/>
<rect x="341.2" y="489.85" width="1.5" height="1.5" fill="#111"/>
<rect x="344.75" y="489.85" width="1.5" height="1.5" fill="#111"/>
<rect x="348.3" y="489.85" width="1.5" height="1.5" fill="#111"/>
<rect x="351.85" y="489.85" width="1.5" height="1.5" fill="#111"/>
<rect x="355.4" y="489.85" width="1.5" height="1.5" fill="#111"/>
<rect x="358.95" y="489.85" width="1.5" height="1.5" fill="#111"/>
<rect x="362.5" y="489.85" width="1.5" height="1.5" fill="#111"/>
<rect x="330.55" y="493.55" width="1.5" height="1.5" fill="#111"/>
<rect x="334.1" y="493.55" width="1.5" height="1.5" fill="#111"/>
<rect x="337.65" y="493.55" width="1.5" height="1.5" fill="#111"/>
<rect x="341.2" y="493.55" width="1.5" height="1.5" fill="#111"/>
<rect x="344.75" y="493.55" width="1.5" height="1.5" fill="#111"/>
<rect x="348.3" y="493.55" width="1.5" height="1.5" fill="#111"/>
<rect x="351.85" y="493.55" width="1.5" height="1.5" fill="#111"/>
<rect x="355.4" y="493.55" width="1.5" height="1.5" fill="#111"/>
<rect x="358.95" y="493.55" width="1.5" height="1.5" fill="#111"/>
<rect x="334.1" y="497.15" width="1.5" height="1.5" fill="#111"/>
<rect x="337.65" y="497.15" width="1.5" height="1.5" fill="#111"/>
<rect x="341.2" y="497.15" width="1.5" height="1.5" fill="#111"/>
<rect x="344.75" y="497.15" width="1.5" height="1.5" fill="#111"/>
<rect x="348.3" y="497.15" width="1.5" height="1.5" fill="#111"/>
<rect x="351.85" y="497.15" width="1.5" height="1.5" fill="#111"/>
<rect x="355.4" y="497.15" width="1.5" height="1.5" fill="#111"/>
<rect x="337.65" y="500.95" width="1.5" height="1.5" fill="#111"/>
<rect x="341.2" y="500.95" width="1.5" height="1.5" fill="#111"/>
<rect x="344.75" y="500.95" width="1.5" height="1.5" fill="#111"/>
<rect x="348.3" y="500.95" width="1.5" height="1.5" fill="#111"/>
<rect x="351.85" y="500.95" width="1.5" height="1.5" fill="#111"/>
<circle cx="345.5" cy="482.5" r="1.6" stroke="#111" stroke-width="0.8" fill="#fff"/>
<line x1="300" y1="482.5" x2="312" y2="482.5" stroke="#333" stroke-width="1"/>
<line x1="379" y1="482.5" x2="391" y2="482.5" stroke="#333" stroke-width="1"/>
<line x1="345.5" y1="460.3" x2="345.5" y2="473" stroke="#111" stroke-width="1.2"/>
<line x1="345.5" y1="488" x2="345.5" y2="501.5" stroke="#111" stroke-width="1.2"/>
<line x1="345.5" y1="506" x2="345.5" y2="507.6" stroke="#111" stroke-width="1"/>
<line x1="345.5" y1="513" x2="345.5" y2="527.5" stroke="#111" stroke-width="1.1"/>
<line x1="320" y1="482.5" x2="338" y2="482.5" stroke="#555" stroke-width="0.8" stroke-dasharray="6 2"/>
<line x1="353" y1="482.5" x2="371" y2="482.5" stroke="#555" stroke-width="0.8" stroke-dasharray="6 2"/>
<circle cx="443.5" cy="482.5" r="42" stroke="#111" stroke-width="0.9" fill="none"/>
<path d="M402.6,433.4 Q443.5,423 487.6,433.4 L489.5,447.8 Q488,461 473,466.6 L414,466.6 Q399,461 400.3,447.8 Z" stroke="#111" stroke-width="1" fill="#fff"/>
<path d="M443.5,452 Q466,452.5 470,458 Q474,466 473.5,482.5 Q473.5,500 470.5,507 Q466,512.5 443.5,513 Q421,512.5 416.5,507 Q413.5,500 413.5,482.5 Q413,466 417,458 Q421,452.5 443.5,452 Z" stroke="#111" stroke-width="1" fill="#fff"/>
<circle cx="443.5" cy="482.5" r="28" stroke="#111" stroke-width="0.9" fill="none"/>
<circle cx="417.2" cy="508.3" r="2.6" stroke="#111" stroke-width="0.9" fill="#fff"/>
<circle cx="470.2" cy="508.3" r="2.6" stroke="#111" stroke-width="0.9" fill="#fff"/>
<rect x="439.2" y="461.35" width="1.5" height="1.5" fill="#111"/>
<rect x="442.75" y="461.35" width="1.5" height="1.5" fill="#111"/>
<rect x="446.3" y="461.35" width="1.5" height="1.5" fill="#111"/>
<rect x="432.1" y="465.15" width="1.5" height="1.5" fill="#111"/>
<rect x="435.65" y="465.15" width="1.5" height="1.5" fill="#111"/>
<rect x="439.2" y="465.15" width="1.5" height="1.5" fill="#111"/>
<rect x="442.75" y="465.15" width="1.5" height="1.5" fill="#111"/>
<rect x="446.3" y="465.15" width="1.5" height="1.5" fill="#111"/>
<rect x="449.85" y="465.15" width="1.5" height="1.5" fill="#111"/>
<rect x="453.4" y="465.15" width="1.5" height="1.5" fill="#111"/>
<rect x="428.55" y="468.75" width="1.5" height="1.5" fill="#111"/>
<rect x="432.1" y="468.75" width="1.5" height="1.5" fill="#111"/>
<rect x="435.65" y="468.75" width="1.5" height="1.5" fill="#111"/>
<rect x="439.2" y="468.75" width="1.5" height="1.5" fill="#111"/>
<rect x="442.75" y="468.75" width="1.5" height="1.5" fill="#111"/>
<rect x="446.3" y="468.75" width="1.5" height="1.5" fill="#111"/>
<rect x="449.85" y="468.75" width="1.5" height="1.5" fill="#111"/>
<rect x="453.4" y="468.75" width="1.5" height="1.5" fill="#111"/>
<rect x="456.95" y="468.75" width="1.5" height="1.5" fill="#111"/>
<rect x="425" y="472.25" width="1.5" height="1.5" fill="#111"/>
<rect x="428.55" y="472.25" width="1.5" height="1.5" fill="#111"/>
<rect x="432.1" y="472.25" width="1.5" height="1.5" fill="#111"/>
<rect x="435.65" y="472.25" width="1.5" height="1.5" fill="#111"/>
<rect x="439.2" y="472.25" width="1.5" height="1.5" fill="#111"/>
<rect x="442.75" y="472.25" width="1.5" height="1.5" fill="#111"/>
<rect x="446.3" y="472.25" width="1.5" height="1.5" fill="#111"/>
<rect x="449.85" y="472.25" width="1.5" height="1.5" fill="#111"/>
<rect x="453.4" y="472.25" width="1.5" height="1.5" fill="#111"/>
<rect x="456.95" y="472.25" width="1.5" height="1.5" fill="#111"/>
<rect x="460.5" y="472.25" width="1.5" height="1.5" fill="#111"/>
<rect x="425" y="475.75" width="1.5" height="1.5" fill="#111"/>
<rect x="428.55" y="475.75" width="1.5" height="1.5" fill="#111"/>
<rect x="432.1" y="475.75" width="1.5" height="1.5" fill="#111"/>
<rect x="435.65" y="475.75" width="1.5" height="1.5" fill="#111"/>
<rect x="439.2" y="475.75" width="1.5" height="1.5" fill="#111"/>
<rect x="442.75" y="475.75" width="1.5" height="1.5" fill="#111"/>
<rect x="446.3" y="475.75" width="1.5" height="1.5" fill="#111"/>
<rect x="449.85" y="475.75" width="1.5" height="1.5" fill="#111"/>
<rect x="453.4" y="475.75" width="1.5" height="1.5" fill="#111"/>
<rect x="456.95" y="475.75" width="1.5" height="1.5" fill="#111"/>
<rect x="460.5" y="475.75" width="1.5" height="1.5" fill="#111"/>
<rect x="421.45" y="479.25" width="1.5" height="1.5" fill="#111"/>
<rect x="425" y="479.25" width="1.5" height="1.5" fill="#111"/>
<rect x="428.55" y="479.25" width="1.5" height="1.5" fill="#111"/>
<rect x="432.1" y="479.25" width="1.5" height="1.5" fill="#111"/>
<rect x="435.65" y="479.25" width="1.5" height="1.5" fill="#111"/>
<rect x="449.85" y="479.25" width="1.5" height="1.5" fill="#111"/>
<rect x="453.4" y="479.25" width="1.5" height="1.5" fill="#111"/>
<rect x="456.95" y="479.25" width="1.5" height="1.5" fill="#111"/>
<rect x="460.5" y="479.25" width="1.5" height="1.5" fill="#111"/>
<rect x="464.05" y="479.25" width="1.5" height="1.5" fill="#111"/>
<rect x="421.45" y="482.75" width="1.5" height="1.5" fill="#111"/>
<rect x="425" y="482.75" width="1.5" height="1.5" fill="#111"/>
<rect x="428.55" y="482.75" width="1.5" height="1.5" fill="#111"/>
<rect x="432.1" y="482.75" width="1.5" height="1.5" fill="#111"/>
<rect x="435.65" y="482.75" width="1.5" height="1.5" fill="#111"/>
<rect x="449.85" y="482.75" width="1.5" height="1.5" fill="#111"/>
<rect x="453.4" y="482.75" width="1.5" height="1.5" fill="#111"/>
<rect x="456.95" y="482.75" width="1.5" height="1.5" fill="#111"/>
<rect x="460.5" y="482.75" width="1.5" height="1.5" fill="#111"/>
<rect x="464.05" y="482.75" width="1.5" height="1.5" fill="#111"/>
<rect x="425" y="486.15" width="1.5" height="1.5" fill="#111"/>
<rect x="428.55" y="486.15" width="1.5" height="1.5" fill="#111"/>
<rect x="432.1" y="486.15" width="1.5" height="1.5" fill="#111"/>
<rect x="435.65" y="486.15" width="1.5" height="1.5" fill="#111"/>
<rect x="439.2" y="486.15" width="1.5" height="1.5" fill="#111"/>
<rect x="442.75" y="486.15" width="1.5" height="1.5" fill="#111"/>
<rect x="446.3" y="486.15" width="1.5" height="1.5" fill="#111"/>
<rect x="449.85" y="486.15" width="1.5" height="1.5" fill="#111"/>
<rect x="453.4" y="486.15" width="1.5" height="1.5" fill="#111"/>
<rect x="456.95" y="486.15" width="1.5" height="1.5" fill="#111"/>
<rect x="460.5" y="486.15" width="1.5" height="1.5" fill="#111"/>
<rect x="425" y="489.85" width="1.5" height="1.5" fill="#111"/>
<rect x="428.55" y="489.85" width="1.5" height="1.5" fill="#111"/>
<rect x="432.1" y="489.85" width="1.5" height="1.5" fill="#111"/>
<rect x="435.65" y="489.85" width="1.5" height="1.5" fill="#111"/>
<rect x="439.2" y="489.85" width="1.5" height="1.5" fill="#111"/>
<rect x="442.75" y="489.85" width="1.5" height="1.5" fill="#111"/>
<rect x="446.3" y="489.85" width="1.5" height="1.5" fill="#111"/>
<rect x="449.85" y="489.85" width="1.5" height="1.5" fill="#111"/>
<rect x="453.4" y="489.85" width="1.5" height="1.5" fill="#111"/>
<rect x="456.95" y="489.85" width="1.5" height="1.5" fill="#111"/>
<rect x="460.5" y="489.85" width="1.5" height="1.5" fill="#111"/>
<rect x="428.55" y="493.55" width="1.5" height="1.5" fill="#111"/>
<rect x="432.1" y="493.55" width="1.5" height="1.5" fill="#111"/>
<rect x="435.65" y="493.55" width="1.5" height="1.5" fill="#111"/>
<rect x="439.2" y="493.55" width="1.5" height="1.5" fill="#111"/>
<rect x="442.75" y="493.55" width="1.5" height="1.5" fill="#111"/>
<rect x="446.3" y="493.55" width="1.5" height="1.5" fill="#111"/>
<rect x="449.85" y="493.55" width="1.5" height="1.5" fill="#111"/>
<rect x="453.4" y="493.55" width="1.5" height="1.5" fill="#111"/>
<rect x="456.95" y="493.55" width="1.5" height="1.5" fill="#111"/>
<rect x="432.1" y="497.15" width="1.5" height="1.5" fill="#111"/>
<rect x="435.65" y="497.15" width="1.5" height="1.5" fill="#111"/>
<rect x="439.2" y="497.15" width="1.5" height="1.5" fill="#111"/>
<rect x="442.75" y="497.15" width="1.5" height="1.5" fill="#111"/>
<rect x="446.3" y="497.15" width="1.5" height="1.5" fill="#111"/>
<rect x="449.85" y="497.15" width="1.5" height="1.5" fill="#111"/>
<rect x="453.4" y="497.15" width="1.5" height="1.5" fill="#111"/>
<rect x="435.65" y="500.95" width="1.5" height="1.5" fill="#111"/>
<rect x="439.2" y="500.95" width="1.5" height="1.5" fill="#111"/>
<rect x="442.75" y="500.95" width="1.5" height="1.5" fill="#111"/>
<rect x="446.3" y="500.95" width="1.5" height="1.5" fill="#111"/>
<rect x="449.85" y="500.95" width="1.5" height="1.5" fill="#111"/>
<circle cx="443.5" cy="482.5" r="1.6" stroke="#111" stroke-width="0.8" fill="#fff"/>
<line x1="398" y1="482.5" x2="410" y2="482.5" stroke="#333" stroke-width="1"/>
<line x1="477" y1="482.5" x2="489" y2="482.5" stroke="#333" stroke-width="1"/>
<line x1="443.5" y1="460.3" x2="443.5" y2="473" stroke="#111" stroke-width="1.2"/>
<line x1="443.5" y1="488" x2="443.5" y2="501.5" stroke="#111" stroke-width="1.2"/>
<line x1="443.5" y1="506" x2="443.5" y2="507.6" stroke="#111" stroke-width="1"/>
<line x1="443.5" y1="513" x2="443.5" y2="527.5" stroke="#111" stroke-width="1.1"/>
<line x1="418" y1="482.5" x2="436" y2="482.5" stroke="#555" stroke-width="0.8" stroke-dasharray="6 2"/>
<line x1="451" y1="482.5" x2="469" y2="482.5" stroke="#555" stroke-width="0.8" stroke-dasharray="6 2"/>
<line x1="394.5" y1="410" x2="394.5" y2="545" stroke="#555" stroke-width="1" stroke-dasharray="14 3 2 3"/>
<rect x="375" y="415.5" width="39" height="5.2" rx="1" stroke="#111" stroke-width="1" fill="#fff"/>
<path d="M381.8,421 L378.5,430.5 M383.5,421.5 L380.6,431 M407,421 L410.4,430.5 M405.5,421.5 L408.5,431" stroke="#333" stroke-width="0.8" fill="none"/>
<line x1="383.4" y1="426.5" x2="405.5" y2="426.5" stroke="#111" stroke-width="1"/>
<path d="M390.4,420.2 Q394.4,424.5 399.5,420.2" stroke="#444" stroke-width="0.8" fill="none"/>
<line x1="390.8" y1="453.5" x2="401.2" y2="453.5" stroke="#444" stroke-width="0.8"/>
<circle cx="394.4" cy="458.2" r="2.3" stroke="#333" stroke-width="0.8" fill="none"/>
<circle cx="394.4" cy="482.5" r="2.3" stroke="#333" stroke-width="0.8" fill="none"/>
<circle cx="394.2" cy="507.5" r="2.3" stroke="#111" stroke-width="0.9" fill="none"/>
<path d="M378.5,508.5 Q389,516 391.5,526 M410.4,508.5 Q400,516 397,526" stroke="#111" stroke-width="0.9" fill="none"/>
<path d="M370.4,516.1 Q383,522 382,531 M418.5,516.1 Q406,522 406.8,531" stroke="#111" stroke-width="0.9" fill="none"/>
<path d="M375.5,531.5 L389,531.5 Q392,526 394.2,525.5 Q396.5,526 399.5,531.5 L413.5,531.5" stroke="#111" stroke-width="1.3" fill="none"/>
<line x1="375.5" y1="536.5" x2="413.5" y2="536.5" stroke="#111" stroke-width="1.3"/>
<line x1="375.5" y1="531.5" x2="375.5" y2="536.5" stroke="#555" stroke-width="0.8"/>
<line x1="413.5" y1="531.5" x2="413.5" y2="536.5" stroke="#555" stroke-width="0.8"/>
<polygon points="394.5,391.3 398.8,395.8 396.8,395.8 396.8,410.8 392.3,405.8 392.3,395.8 390.2,395.8" fill="#0a0a0a"/>
<line x1="393.3" y1="394.8" x2="395.7" y2="394.8" stroke="#bbb" stroke-width="0.6"/>
<line x1="393.3" y1="398.3" x2="395.7" y2="398.3" stroke="#bbb" stroke-width="0.6"/>
<line x1="393.3" y1="401.8" x2="395.7" y2="401.8" stroke="#bbb" stroke-width="0.6"/>
<line x1="393.3" y1="405.3" x2="395.7" y2="405.3" stroke="#bbb" stroke-width="0.6"/>
<polygon points="394.5,543 398.8,547.5 396.8,547.5 396.8,562.5 392.3,557.5 392.3,547.5 390.2,547.5" fill="#0a0a0a"/>
<line x1="393.3" y1="546.5" x2="395.7" y2="546.5" stroke="#bbb" stroke-width="0.6"/>
<line x1="393.3" y1="550" x2="395.7" y2="550" stroke="#bbb" stroke-width="0.6"/>
<line x1="393.3" y1="553.5" x2="395.7" y2="553.5" stroke="#bbb" stroke-width="0.6"/>
<line x1="393.3" y1="557" x2="395.7" y2="557" stroke="#bbb" stroke-width="0.6"/>
<line x1="599.5" y1="355" x2="599.5" y2="551" stroke="#777" stroke-width="1" stroke-dasharray="14 3 2 3"/>
<line x1="530" y1="453.3" x2="660" y2="453.3" stroke="#777" stroke-width="1" stroke-dasharray="14 3 2 3"/>
<path d="M558.6,404 A41,40 0 0,1 640.7,404 L640.7,420.5 Q636,424 633.8,429.4 Q637,437 640.7,439.2 L645.6,441.2" stroke="#555" stroke-width="0.9" fill="none" stroke-dasharray="2.2 5"/>
<path d="M558.6,404 L558.4,424.5 Q556,432 550.5,435.3 L539.7,442.2" stroke="#555" stroke-width="0.9" fill="none" stroke-dasharray="2.2 5"/>
<path d="M532.9,443.1 L532.9,434.3 L537.8,434.3 L537.8,439.2 M532.9,462.8 L532.9,472.6 L537.8,472.6 L537.8,466.7" stroke="#555" stroke-width="0.9" fill="none" stroke-dasharray="3 2"/>
<path d="M648.6,441 L648.6,434.3 L653.5,434.3 L653.5,442.2 M640.7,468.7 Q644,464 646.6,464.7 Q650,466 650.5,472.6" stroke="#555" stroke-width="0.9" fill="none" stroke-dasharray="3 2"/>
<path d="M539.7,464.7 L552.5,471.6 L564.3,481.4 L560.4,491.3 L559.4,503 A40,40 0 0,0 640.7,503 L639.7,489.3 L633.8,476.5 L640.7,468.7" stroke="#555" stroke-width="0.9" fill="none" stroke-dasharray="2.2 5"/>
<polygon points="509,453.3 513.8,449.1 513.8,451.3 528.5,451.1 525.5,455.5 513.8,455.5 513.8,457.5" fill="#0a0a0a"/>
<line x1="512" y1="453.5" x2="524.5" y2="453.5" stroke="#aaa" stroke-width="0.6"/>
<polygon points="660.3,453.3 665.1,449.1 665.1,451.3 679.8,451.1 676.8,455.5 665.1,455.5 665.1,457.5" fill="#0a0a0a"/>
<line x1="663.3" y1="453.5" x2="675.8" y2="453.5" stroke="#aaa" stroke-width="0.6"/>
<circle cx="575.2" cy="393.3" r="2.4" stroke="#333" stroke-width="0.8" fill="none"/>
<line x1="575.2" y1="387.3" x2="575.2" y2="400.3" stroke="#111" stroke-width="1"/>
<circle cx="623.7" cy="393.3" r="2.4" stroke="#333" stroke-width="0.8" fill="none"/>
<line x1="623.7" y1="387.3" x2="623.7" y2="400.3" stroke="#111" stroke-width="1"/>
<circle cx="575.2" cy="513.3" r="2.4" stroke="#333" stroke-width="0.8" fill="none"/>
<line x1="575.2" y1="507.3" x2="575.2" y2="520.3" stroke="#111" stroke-width="1"/>
<circle cx="623.7" cy="513.3" r="2.4" stroke="#333" stroke-width="0.8" fill="none"/>
<line x1="623.7" y1="507.3" x2="623.7" y2="520.3" stroke="#111" stroke-width="1"/>
<line x1="569" y1="393.3" x2="582.3" y2="393.3" stroke="#111" stroke-width="1"/>
<line x1="617" y1="393.3" x2="702.7" y2="393.3" stroke="#111" stroke-width="1.1"/>
<line x1="569" y1="513.3" x2="582.3" y2="513.3" stroke="#111" stroke-width="1"/>
<line x1="617" y1="513.3" x2="702.7" y2="513.3" stroke="#111" stroke-width="1.1"/>
<line x1="515.9" y1="372.3" x2="542.2" y2="372.3" stroke="#111" stroke-width="1.2"/>
<line x1="542.2" y1="372.3" x2="573.5" y2="391.3" stroke="#333" stroke-width="0.9"/>
<polygon points="573.5,391.3 566.43,389.46 568.61,385.87" fill="#000"/>
<line x1="542.2" y1="372.3" x2="621.5" y2="391.8" stroke="#333" stroke-width="0.9"/>
<polygon points="621.5,391.8 614.2,392.17 615.2,388.09" fill="#000"/>
<text x="528.7" y="368.6" text-anchor="middle" font-size="12" fill="#0a0a28">M16</text>
<line x1="519.8" y1="559.2" x2="546.4" y2="559.2" stroke="#111" stroke-width="1.2"/>
<line x1="546.4" y1="559.2" x2="573.8" y2="515.5" stroke="#333" stroke-width="0.9"/>
<polygon points="573.8,515.5 571.86,522.55 568.3,520.32" fill="#000"/>
<line x1="546.4" y1="559.2" x2="621.8" y2="514.8" stroke="#333" stroke-width="0.9"/>
<polygon points="621.8,514.8 616.83,520.16 614.7,516.54" fill="#000"/>
<text x="532.9" y="556.9" text-anchor="middle" font-size="12" fill="#0a0a28">M16</text>
<line x1="699.5" y1="393.3" x2="699.5" y2="513.3" stroke="#444" stroke-width="1"/>
<polygon points="699.5,393.5 697.2,400.5 701.8,400.5" fill="#000"/>
<polygon points="699.5,513.3 697.2,506.3 701.8,506.3" fill="#000"/>
<text x="694.1" y="452.4" text-anchor="middle" font-size="12" fill="#0a0a28" transform="rotate(-90 694.1 452.4)">550</text>
<line x1="575.2" y1="513" x2="575.2" y2="585.5" stroke="#111" stroke-width="1"/>
<line x1="623.7" y1="513" x2="623.7" y2="585.5" stroke="#111" stroke-width="1"/>
<line x1="653.3" y1="463" x2="653.3" y2="585.5" stroke="#111" stroke-width="1.1"/>
<line x1="575.2" y1="581.7" x2="623.7" y2="581.7" stroke="#111" stroke-width="1"/>
<polygon points="575.2,581.7 582.2,579.4 582.2,584" fill="#000"/>
<polygon points="623.7,581.7 616.7,579.4 616.7,584" fill="#000"/>
<line x1="623.7" y1="581.7" x2="671.5" y2="581.7" stroke="#111" stroke-width="1"/>
<polygon points="653.3,581.7 660.3,579.4 660.3,584" fill="#000"/>
<text x="600.4" y="578.1" text-anchor="middle" font-size="12" fill="#0a0a28">230</text>
<text x="641.8" y="578.1" text-anchor="middle" font-size="12" fill="#0a0a28">110</text>
</svg>
</body></html>
